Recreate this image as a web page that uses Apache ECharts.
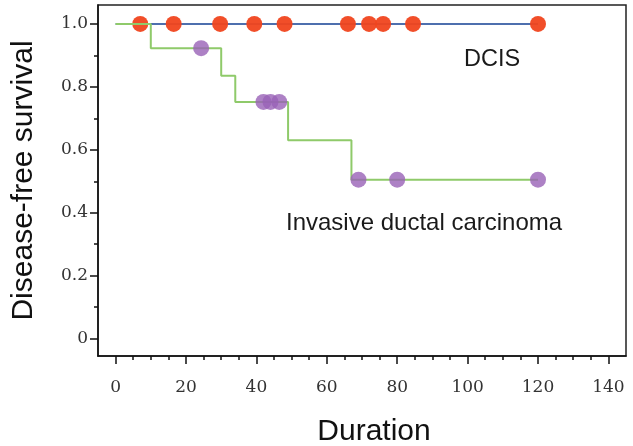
<!DOCTYPE html>
<html>
<head>
<meta charset="utf-8">
<script src="https://cdn.jsdelivr.net/npm/echarts@6/dist/echarts.min.js"></script>
<style>
html,body{margin:0;padding:0;background:#fff;}
#chart{width:633px;height:446px;}
</style>
</head>
<body>
<div id="chart"></div>
<script>
// ---- data ----
const xTicks = [0, 20, 40, 60, 80, 100, 120, 140];
const xMinorTicks = [5, 10, 15, 25, 30, 35, 45, 50, 55, 65, 70, 75, 85, 90, 95, 105, 110, 115, 125, 130, 135];
const yTicks = [0, 0.2, 0.4, 0.6, 0.8, 1.0];
const yTickLabels = ['0', '0.2', '0.4', '0.6', '0.8', '1.0'];
const yMinorTicks = [0.1, 0.3, 0.5, 0.7, 0.9];

// DCIS: no events, survival stays at 1.0
const dcisLineTimes = [0, 120];
const dcisLineSurv = [1.0, 1.0];
const dcisCensorTimes = [7, 16.5, 29.7, 39.4, 48, 66, 72, 76, 84.5, 120];
const dcisCensorSurv = [1, 1, 1, 1, 1, 1, 1, 1, 1, 1];

// Invasive ductal carcinoma: Kaplan-Meier steps
const idcStepTimes = [0, 10, 30, 34, 49, 67, 120];
const idcStepSurv = [1.0, 0.923, 0.835, 0.752, 0.630, 0.505, 0.505];
const idcCensorTimes = [24.3, 42, 44, 46.5, 69, 80, 120];
const idcCensorSurv = [0.923, 0.752, 0.752, 0.752, 0.505, 0.505, 0.505];

const zip = (a, b) => a.map((v, i) => [v, b[i]]);

const chart = echarts.init(document.getElementById('chart'), null, {renderer: 'canvas'});
const serif = 'DejaVu Serif';
const sans = 'Liberation Sans';

const option = {
  animation: false,
  backgroundColor: '#ffffff',
  grid: {
    left: 98, right: 7, top: 5, bottom: 90,
    show: true, borderColor: '#222', borderWidth: 1.5,
    containLabel: false, outerBoundsMode: 'none'
  },
  xAxis: [
    {
      type: 'value', position: 'bottom', min: -5, max: 145,
      axisLine: {show: true, onZero: false, lineStyle: {color: '#111', width: 1.5}},
      axisTick: {show: true, customValues: xTicks, length: 8, lineStyle: {color: '#111', width: 1.5}},
      axisLabel: {show: true, customValues: xTicks, margin: 23, color: '#333',
        fontFamily: serif, fontSize: 17},
      splitLine: {show: false},
      name: 'Duration', nameLocation: 'middle', nameGap: 61,
      nameTextStyle: {fontFamily: sans, fontSize: 30, color: '#111', padding: [0, 0, 0, 24]}
    },
    {
      type: 'value', position: 'bottom', min: -5, max: 145,
      axisLine: {show: false, onZero: false},
      axisTick: {show: true, customValues: xMinorTicks, length: 4, lineStyle: {color: '#111', width: 1.5}},
      axisLabel: {show: false},
      splitLine: {show: false}
    }
  ],
  yAxis: [
    {
      type: 'value', position: 'left', min: -0.055, max: 1.06,
      axisLine: {show: true, onZero: false, lineStyle: {color: '#111', width: 1.5}},
      axisTick: {show: true, customValues: yTicks, length: 8, lineStyle: {color: '#111', width: 1.5}},
      axisLabel: {show: true, customValues: yTicks, margin: 10, color: '#333',
        fontFamily: serif, fontSize: 17,
        formatter: function (v) {
          const i = yTicks.findIndex(t => Math.abs(t - v) < 1e-6);
          return i >= 0 ? yTickLabels[i] : '';
        }},
      splitLine: {show: false},
      name: 'Disease-free survival', nameLocation: 'middle', nameRotate: 90, nameGap: 51,
      nameTextStyle: {fontFamily: sans, fontSize: 30, color: '#111', padding: [0, 0, 8, 0]}
    },
    {
      type: 'value', position: 'left', min: -0.055, max: 1.06,
      axisLine: {show: false, onZero: false},
      axisTick: {show: true, customValues: yMinorTicks, length: 4, lineStyle: {color: '#111', width: 1.5}},
      axisLabel: {show: false},
      splitLine: {show: false}
    }
  ],
  series: [
    {
      name: 'DCIS', type: 'line', data: zip(dcisLineTimes, dcisLineSurv),
      showSymbol: false, symbol: 'none',
      lineStyle: {color: '#4e6fae', width: 2}, z: 2
    },
    {
      name: 'DCIS censored', type: 'scatter', data: zip(dcisCensorTimes, dcisCensorSurv),
      symbol: 'circle', symbolSize: 16,
      itemStyle: {color: '#f0451d', opacity: 0.95}, z: 3
    },
    {
      name: 'Invasive ductal carcinoma', type: 'line', step: 'end',
      data: zip(idcStepTimes, idcStepSurv),
      showSymbol: false, symbol: 'none',
      lineStyle: {color: '#8fca6a', width: 2}, z: 4
    },
    {
      name: 'IDC censored', type: 'scatter', data: zip(idcCensorTimes, idcCensorSurv),
      symbol: 'circle', symbolSize: 16,
      itemStyle: {color: '#9862b6'}, z: 5
    }
  ],
  graphic: [
    {type: 'text', x: 464, y: 60,
      style: {text: 'DCIS', font: '23.5px "Liberation Sans"', fill: '#1a1a1a', textVerticalAlign: 'middle'}},
    {type: 'text', x: 286, y: 223,
      style: {text: 'Invasive ductal carcinoma', font: '24px "Liberation Sans"', fill: '#1a1a1a', textVerticalAlign: 'middle'}}
  ]
};
chart.setOption(option);
</script>
</body>
</html>
